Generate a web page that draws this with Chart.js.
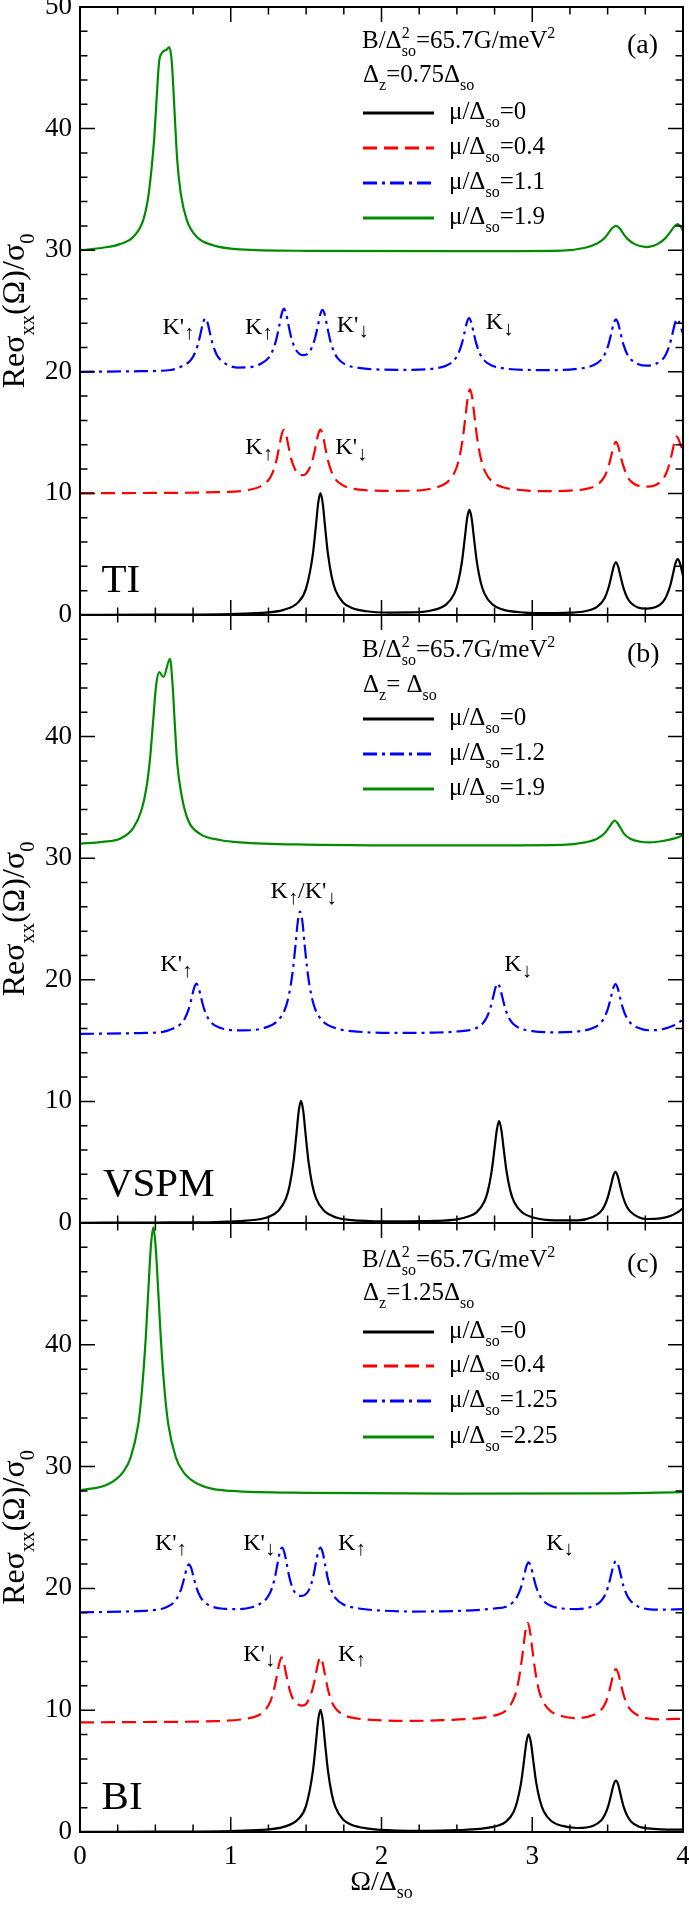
<!DOCTYPE html>
<html>
<head>
<meta charset="utf-8">
<script src="https://cdn.jsdelivr.net/npm/chart.js@4.4.1/dist/chart.umd.min.js"></script>
<style>
  body { margin: 0; background: #fff; width: 689px; height: 1905px; position: relative; overflow: hidden; }
  canvas { position: absolute; left: 0; }
</style>
</head>
<body>
<canvas id="pa" width="689" height="640" style="top:0px"></canvas>
<canvas id="pb" width="689" height="660" style="top:590px"></canvas>
<canvas id="pc" width="689" height="707" style="top:1198px"></canvas>
<script>
// x = Ω/Δso, y = Re σxx(Ω)/σ0
const xTicks = [0, 1, 2, 3, 4];
const yTicks = [0, 10, 20, 30, 40, 50];

// panel (a) TI, Δz = 0.75 Δso
const muA = ['0', '0.4', '1.1', '1.9'];
const a_mu0 = [[0,0.02],[0.5,0.03],[1.0,0.08],[1.2,0.17],[1.35,0.42],[1.45,1.08],[1.5,2.19],[1.545,5.02],[1.565,7.35],[1.58,9.2],[1.595,10.02],[1.61,9.2],[1.625,7.35],[1.645,5.0],[1.67,3.13],[1.695,2.03],[1.745,1.03],[1.8,0.6],[1.9,0.31],[2.05,0.2],[2.2,0.21],[2.33,0.37],[2.43,0.87],[2.483,1.76],[2.508,2.7],[2.533,4.34],[2.553,6.36],[2.568,7.95],[2.583,8.64],[2.598,7.95],[2.613,6.36],[2.633,4.33],[2.658,2.69],[2.683,1.76],[2.733,0.9],[2.8,0.46],[2.95,0.2],[3.1,0.15],[3.25,0.19],[3.35,0.31],[3.43,0.66],[3.48,1.38],[3.505,2.2],[3.525,3.19],[3.54,3.98],[3.555,4.34],[3.57,3.98],[3.585,3.2],[3.605,2.23],[3.63,1.42],[3.655,0.98],[3.7,0.62],[3.76,0.52],[3.82,0.65],[3.865,1.05],[3.89,1.55],[3.915,2.4],[3.935,3.45],[3.95,4.25],[3.965,4.6],[3.98,4.25],[4.0,3.2]];
const a_mu04 = [[0,10.02],[0.5,10.04],[0.9,10.1],[1.1,10.25],[1.2,10.6],[1.252,11.12],[1.277,11.69],[1.302,12.66],[1.322,13.86],[1.337,14.8],[1.352,15.22],[1.367,14.84],[1.382,13.94],[1.402,12.8],[1.427,11.97],[1.452,11.57],[1.473,11.5],[1.495,11.57],[1.52,12.0],[1.545,12.86],[1.565,13.97],[1.58,14.86],[1.595,15.25],[1.61,14.82],[1.625,13.9],[1.645,12.7],[1.67,11.73],[1.695,11.16],[1.745,10.66],[1.8,10.42],[1.9,10.26],[2.05,10.21],[2.2,10.22],[2.33,10.4],[2.437,10.93],[2.487,11.79],[2.512,12.72],[2.537,14.33],[2.557,16.31],[2.572,17.87],[2.587,18.56],[2.602,17.87],[2.617,16.31],[2.637,14.33],[2.662,12.72],[2.687,11.79],[2.737,10.93],[2.8,10.53],[2.95,10.25],[3.1,10.18],[3.25,10.23],[3.35,10.35],[3.43,10.69],[3.48,11.4],[3.505,12.18],[3.525,13.14],[3.54,13.9],[3.555,14.24],[3.57,13.9],[3.585,13.15],[3.605,12.24],[3.63,11.42],[3.655,10.99],[3.7,10.64],[3.758,10.55],[3.82,10.7],[3.86,11.07],[3.885,11.56],[3.91,12.42],[3.93,13.48],[3.945,14.32],[3.96,14.68],[3.975,14.3],[4.0,13.5]];
const a_mu11 = [[0,20.0],[0.4,20.05],[0.6,20.15],[0.68,20.48],[0.731,20.91],[0.756,21.38],[0.781,22.2],[0.801,23.21],[0.816,24.01],[0.831,24.4],[0.846,24.05],[0.861,23.25],[0.881,22.25],[0.906,21.43],[0.931,21.0],[0.981,20.55],[1.05,20.35],[1.15,20.42],[1.202,20.68],[1.252,21.17],[1.277,21.72],[1.302,22.66],[1.322,23.8],[1.337,24.73],[1.352,25.2],[1.367,24.8],[1.382,23.9],[1.402,22.77],[1.427,21.92],[1.46,21.44],[1.485,21.37],[1.509,21.47],[1.534,21.9],[1.559,22.76],[1.579,23.85],[1.594,24.73],[1.609,25.1],[1.624,24.69],[1.639,23.77],[1.659,22.62],[1.684,21.67],[1.709,21.12],[1.759,20.6],[1.85,20.32],[2.0,20.18],[2.2,20.16],[2.35,20.27],[2.431,20.51],[2.481,20.94],[2.506,21.41],[2.531,22.23],[2.551,23.24],[2.566,24.04],[2.581,24.41],[2.596,24.04],[2.611,23.24],[2.631,22.23],[2.656,21.41],[2.681,20.94],[2.731,20.51],[2.8,20.3],[2.95,20.16],[3.13,20.14],[3.3,20.25],[3.405,20.53],[3.455,20.96],[3.48,21.42],[3.505,22.21],[3.525,23.19],[3.54,23.97],[3.555,24.31],[3.57,23.98],[3.585,23.22],[3.605,22.23],[3.63,21.45],[3.655,21.01],[3.7,20.65],[3.758,20.5],[3.81,20.61],[3.862,21.0],[3.887,21.45],[3.912,22.24],[3.932,23.23],[3.947,24.0],[3.962,24.33],[3.977,24.0],[4.0,23.1]];
const a_mu19 = [[0,30.0],[0.15,30.2],[0.265,30.5],[0.354,31.1],[0.42,32.5],[0.453,34.4],[0.476,36.9],[0.493,39.3],[0.509,42.6],[0.524,45.4],[0.542,46.2],[0.575,46.5],[0.592,46.7],[0.608,45.6],[0.619,43.4],[0.63,40.7],[0.645,37.4],[0.668,34.7],[0.708,32.5],[0.774,31.1],[0.884,30.4],[1.061,30.07],[1.5,29.95],[2.5,29.92],[3.2,29.97],[3.35,30.2],[3.43,30.55],[3.48,31.0],[3.505,31.4],[3.53,31.8],[3.555,32.0],[3.58,31.8],[3.605,31.35],[3.63,30.95],[3.68,30.5],[3.758,30.25],[3.83,30.5],[3.88,30.95],[3.91,31.4],[3.94,31.9],[3.962,32.15],[3.985,31.95],[4.0,31.6]];

// panel (b) VSPM, Δz = Δso
const muB = ['0', '1.2', '1.9'];
const b_mu0 = [[0,0.02],[0.5,0.04],[0.9,0.08],[1.1,0.19],[1.25,0.5],[1.316,1.0],[1.366,2.0],[1.391,3.1],[1.416,5.0],[1.436,7.35],[1.451,9.2],[1.466,10.05],[1.481,9.2],[1.496,7.36],[1.516,5.02],[1.541,3.13],[1.566,2.03],[1.616,1.04],[1.7,0.45],[1.85,0.2],[2.1,0.13],[2.35,0.17],[2.5,0.3],[2.58,0.55],[2.63,0.87],[2.68,1.7],[2.705,2.6],[2.73,4.2],[2.75,6.15],[2.765,7.66],[2.78,8.38],[2.795,7.66],[2.81,6.15],[2.83,4.2],[2.855,2.62],[2.88,1.72],[2.93,0.9],[3.0,0.47],[3.15,0.22],[3.3,0.22],[3.402,0.5],[3.452,0.9],[3.477,1.35],[3.502,2.15],[3.522,3.1],[3.537,3.85],[3.552,4.2],[3.567,3.85],[3.582,3.1],[3.602,2.14],[3.627,1.35],[3.652,0.92],[3.702,0.5],[3.76,0.33],[3.85,0.38],[3.92,0.6],[3.96,0.85],[4.0,1.2]];
const b_mu12 = [[0,15.55],[0.4,15.62],[0.55,15.72],[0.622,16.01],[0.672,16.41],[0.697,16.86],[0.722,17.63],[0.742,18.58],[0.757,19.33],[0.7725,19.68],[0.787,19.34],[0.802,18.6],[0.822,17.66],[0.847,16.9],[0.872,16.46],[0.92,16.1],[0.99,15.88],[1.08,15.84],[1.2,15.97],[1.31,16.62],[1.36,17.6],[1.385,18.7],[1.41,20.6],[1.43,22.9],[1.445,24.8],[1.46,25.6],[1.475,24.8],[1.49,22.9],[1.51,20.6],[1.535,18.7],[1.56,17.6],[1.61,16.6],[1.7,16.0],[1.85,15.73],[2.1,15.63],[2.35,15.66],[2.5,15.75],[2.621,15.99],[2.671,16.4],[2.696,16.85],[2.721,17.63],[2.741,18.6],[2.756,19.35],[2.771,19.7],[2.786,19.35],[2.801,18.6],[2.821,17.63],[2.846,16.85],[2.871,16.4],[2.921,16.0],[3.0,15.78],[3.13,15.68],[3.3,15.75],[3.402,16.03],[3.452,16.43],[3.477,16.87],[3.502,17.63],[3.522,18.57],[3.537,19.31],[3.552,19.65],[3.567,19.31],[3.582,18.57],[3.602,17.63],[3.627,16.87],[3.652,16.45],[3.702,16.05],[3.77,15.85],[3.85,15.9],[3.93,16.2],[4.0,16.7]];
const b_mu19 = [[0,31.2],[0.15,31.35],[0.265,31.6],[0.354,32.5],[0.409,34.0],[0.442,35.9],[0.464,38.1],[0.486,41.4],[0.504,44.1],[0.526,45.3],[0.553,44.9],[0.597,46.4],[0.615,44.1],[0.63,40.8],[0.645,37.8],[0.675,35.1],[0.718,33.1],[0.796,32.0],[0.929,31.5],[1.061,31.3],[1.5,31.12],[2.5,31.05],[3.2,31.1],[3.35,31.3],[3.43,31.6],[3.48,32.05],[3.51,32.55],[3.53,32.9],[3.546,33.1],[3.565,32.9],[3.585,32.5],[3.61,32.0],[3.65,31.6],[3.72,31.35],[3.78,31.3],[3.88,31.45],[3.95,31.65],[4.0,31.9]];

// panel (c) BI, Δz = 1.25 Δso
const muC = ['0', '0.4', '1.25', '2.25'];
const c_mu0 = [[0,0.02],[0.5,0.03],[1.0,0.08],[1.2,0.17],[1.35,0.42],[1.45,1.08],[1.5,2.17],[1.545,5.02],[1.565,7.35],[1.58,9.2],[1.595,10.02],[1.61,9.2],[1.625,7.35],[1.645,5.02],[1.67,3.12],[1.695,2.02],[1.745,1.02],[1.8,0.6],[1.9,0.3],[2.1,0.12],[2.3,0.1],[2.5,0.15],[2.65,0.25],[2.78,0.55],[2.826,0.85],[2.876,1.65],[2.901,2.55],[2.926,4.05],[2.946,5.9],[2.961,7.35],[2.976,8.02],[2.991,7.35],[3.006,5.92],[3.026,4.07],[3.051,2.58],[3.076,1.7],[3.126,0.9],[3.2,0.5],[3.3,0.33],[3.405,0.52],[3.455,0.92],[3.48,1.37],[3.505,2.17],[3.525,3.15],[3.54,3.9],[3.555,4.22],[3.57,3.9],[3.585,3.12],[3.605,2.12],[3.63,1.33],[3.655,0.87],[3.705,0.45],[3.766,0.3],[3.85,0.22],[4.0,0.2]];
const c_mu04 = [[0,9.0],[0.5,9.04],[0.9,9.1],[1.1,9.3],[1.187,9.6],[1.237,10.15],[1.262,10.7],[1.287,11.7],[1.307,12.9],[1.322,13.85],[1.337,14.34],[1.352,13.9],[1.367,13.0],[1.387,11.85],[1.412,10.95],[1.45,10.45],[1.466,10.38],[1.495,10.45],[1.52,10.95],[1.545,11.85],[1.565,13.0],[1.58,13.9],[1.595,14.34],[1.61,13.85],[1.625,12.9],[1.645,11.7],[1.67,10.7],[1.695,10.15],[1.745,9.63],[1.85,9.3],[2.0,9.17],[2.2,9.12],[2.4,9.18],[2.6,9.3],[2.72,9.5],[2.82,9.92],[2.87,10.75],[2.895,11.6],[2.92,13.2],[2.94,15.05],[2.955,16.5],[2.97,17.18],[2.985,16.5],[3.0,15.05],[3.02,13.2],[3.045,11.6],[3.07,10.75],[3.12,9.95],[3.2,9.5],[3.3,9.35],[3.405,9.6],[3.455,10.0],[3.48,10.45],[3.505,11.27],[3.525,12.3],[3.54,13.05],[3.555,13.38],[3.57,13.05],[3.585,12.3],[3.605,11.3],[3.63,10.45],[3.655,10.0],[3.705,9.55],[3.766,9.33],[3.85,9.25],[4.0,9.3]];
const c_mu125 = [[0,18.04],[0.3,18.1],[0.49,18.22],[0.573,18.45],[0.623,18.85],[0.648,19.3],[0.673,20.02],[0.693,20.93],[0.708,21.66],[0.723,21.98],[0.738,21.66],[0.753,20.95],[0.773,20.05],[0.798,19.32],[0.823,18.9],[0.873,18.52],[0.95,18.33],[1.045,18.3],[1.14,18.45],[1.19,18.7],[1.24,19.2],[1.265,19.75],[1.29,20.75],[1.31,22.0],[1.325,22.95],[1.34,23.34],[1.355,22.98],[1.37,22.1],[1.39,20.85],[1.415,19.9],[1.44,19.5],[1.467,19.38],[1.495,19.5],[1.52,19.9],[1.545,20.85],[1.565,22.1],[1.58,22.98],[1.595,23.34],[1.61,22.95],[1.625,22.0],[1.645,20.75],[1.67,19.75],[1.695,19.2],[1.745,18.7],[1.85,18.35],[2.0,18.18],[2.2,18.1],[2.4,18.12],[2.6,18.2],[2.75,18.35],[2.826,18.5],[2.876,18.9],[2.901,19.35],[2.926,20.1],[2.946,21.05],[2.961,21.8],[2.976,22.14],[2.991,21.8],[3.006,21.05],[3.026,20.12],[3.051,19.38],[3.076,18.95],[3.126,18.55],[3.2,18.35],[3.3,18.3],[3.405,18.55],[3.455,18.95],[3.48,19.4],[3.505,20.2],[3.525,21.2],[3.54,21.93],[3.555,22.25],[3.57,21.93],[3.585,21.2],[3.605,20.2],[3.63,19.4],[3.655,18.95],[3.705,18.5],[3.766,18.3],[3.85,18.25],[4.0,18.3]];
const c_mu225 = [[0,28.05],[0.186,28.55],[0.286,29.55],[0.336,30.75],[0.386,33.45],[0.411,36.25],[0.436,40.55],[0.456,45.1],[0.471,48.2],[0.486,49.65],[0.501,48.2],[0.516,45.1],[0.536,40.55],[0.561,36.25],[0.586,33.45],[0.636,30.75],[0.686,29.55],[0.786,28.55],[1.0,28.0],[1.5,27.85],[2.5,27.78],[3.5,27.8],[4.0,27.9]];

const SERIF = "'Liberation Serif', 'Times New Roman', 'DejaVu Serif', serif";
Chart.defaults.font.family = SERIF;
Chart.defaults.color = '#000';

const sBlack = { color: '#000000', dash: [] };
const sRed = { color: '#ff0000', dash: [14, 7] };
const sBlue = { color: '#0000ff', dash: [14, 5, 3, 5] };
const sGreen = { color: '#008c00', dash: [] };

const K = (p, arrow) => [['K' + p, ''], [arrow, 'a']];

// draws text with sub ('b'), arrow sub ('a') and superscript ('p', 'P' = no advance) parts
function rich(ctx, x, y, parts, size, draw) {
  let cx = x;
  for (const [t, k] of parts) {
    let fs = k ? size * 0.64 : size;
    if (k === 'a') fs = size * 0.85;
    ctx.font = fs + 'px ' + SERIF;
    let dy = 0;
    if (k === 'b') dy = size * 0.3;
    if (k === 'a') dy = size * 0.22;
    if (k === 'p' || k === 'P') dy = -size * 0.4;
    if (draw) ctx.fillText(t, cx, y + dy);
    if (k !== 'P') cx += ctx.measureText(t).width;
  }
  return cx - x;
}

const panelDeco = {
  id: 'panelDeco',
  afterDatasetsDraw(chart, args, o) {
    const ctx = chart.ctx, a = chart.chartArea;
    const xs = chart.scales.x, ys = chart.scales.y;
    ctx.save();
    ctx.fillStyle = '#000';
    ctx.strokeStyle = '#000';
    ctx.textAlign = 'left';
    ctx.textBaseline = 'alphabetic';

    // inward ticks on all four sides
    ctx.lineWidth = 1.5;
    ctx.beginPath();
    for (let i = 0; i <= 16; i++) {
      const px = xs.getPixelForValue(i * 0.25);
      const len = i % 4 === 0 ? 15 : 7.5;
      ctx.moveTo(px, a.bottom); ctx.lineTo(px, a.bottom - len);
      ctx.moveTo(px, a.top); ctx.lineTo(px, a.top + len);
    }
    for (let v = 0; v <= 50; v += 2) {
      const py = ys.getPixelForValue(v);
      const len = v % 10 === 0 ? 15 : 7.5;
      ctx.moveTo(a.left, py); ctx.lineTo(a.left + len, py);
      ctx.moveTo(a.right, py); ctx.lineTo(a.right - len, py);
    }
    ctx.stroke();
    ctx.lineWidth = 2;
    ctx.strokeRect(a.left, a.top, a.right - a.left, a.bottom - a.top);

    // y axis title
    const yt = [['Reσ', ''], ['xx', 'b'], ['(Ω)/σ', ''], ['0', 'b']];
    ctx.save();
    ctx.translate(24, (a.top + a.bottom) / 2);
    ctx.rotate(-Math.PI / 2);
    const w = rich(ctx, 0, 0, yt, 32, false);
    rich(ctx, -w / 2, 0, yt, 32, true);
    ctx.restore();

    // header text
    rich(ctx, 362, a.top + o.headY[0], [['B/Δ', ''], ['2', 'P'], ['so', 'b'], ['=65.7G/meV', ''], ['2', 'p']], 25, true);
    rich(ctx, 363, a.top + o.headY[1], o.dz, 25, true);
    rich(ctx, 627, a.top + o.tagY, [[o.tag, '']], 28, true);

    // legend
    chart.data.datasets.forEach((ds, i) => {
      const y = a.top + o.legY[i];
      ctx.strokeStyle = ds.borderColor;
      ctx.setLineDash(ds.borderDash);
      ctx.lineWidth = 3;
      ctx.beginPath(); ctx.moveTo(363, y); ctx.lineTo(434, y); ctx.stroke();
      ctx.setLineDash([]);
      rich(ctx, 449, y + 6, [['μ/Δ', ''], ['so', 'b'], ['=' + o.mu[i], '']], 25, true);
    });

    // peak labels and panel name
    o.notes.forEach(n => {
      rich(ctx, xs.getPixelForValue(n.x), ys.getPixelForValue(n.y), n.parts, n.size || 24, true);
    });

    // x axis title on the bottom panel
    if (o.xTitle) {
      const xt = [['Ω/Δ', ''], ['so', 'b']];
      const tw = rich(ctx, 0, 0, xt, 28, false);
      rich(ctx, xs.getPixelForValue(2) - tw / 2, a.bottom + 58, xt, 28, true);
    }
    ctx.restore();
  }
};

function makePanel(id, pad, list, o, bottom) {
  const datasets = list.map(([pts, st]) => ({
    data: pts.map(([x, y]) => ({ x, y })),
    borderColor: st.color,
    borderDash: st.dash,
    borderWidth: 2.2,
    pointRadius: 0,
    fill: false,
    cubicInterpolationMode: 'monotone'
  }));
  return new Chart(document.getElementById(id), {
    type: 'line',
    data: { datasets },
    options: {
      responsive: false,
      animation: false,
      devicePixelRatio: 1,
      events: [],
      layout: { padding: { top: pad[0], bottom: pad[1], left: 0, right: 6 } },
      plugins: { legend: { display: false }, tooltip: { enabled: false }, panelDeco: o },
      scales: {
        x: {
          type: 'linear', min: 0, max: 4,
          display: bottom,
          grid: { display: false, drawTicks: false },
          border: { display: false },
          afterBuildTicks: s => { s.ticks = xTicks.map(v => ({ value: v })); },
          ticks: { font: { size: 27 }, color: '#000', padding: 9, maxRotation: 0, autoSkip: false },
          afterFit: s => { s.height = bottom ? 73 : 0; s.paddingLeft = 0; s.paddingRight = 0; }
        },
        y: {
          type: 'linear', min: 0, max: 50,
          grid: { display: false, drawTicks: false },
          border: { display: false },
          afterBuildTicks: s => { s.ticks = yTicks.map(v => ({ value: v })); },
          ticks: { font: { size: 27 }, color: '#000', padding: 8,
                   callback: v => (v === 50 && !o.top50) ? '' : v },
          afterFit: s => { s.width = 80; s.paddingTop = 0; s.paddingBottom = 0; }
        }
      }
    },
    plugins: [panelDeco]
  });
}

makePanel('pa', [7, 25], [[a_mu0, sBlack], [a_mu04, sRed], [a_mu11, sBlue], [a_mu19, sGreen]], {
  mu: muA, top50: true, tag: '(a)', headY: [41, 75], tagY: 46, legY: [106, 141, 176, 211],
  dz: [['Δ', ''], ['z', 'b'], ['=0.75Δ', ''], ['so', 'b']],
  notes: [
    { x: 0.547, y: 23.1, parts: K("'", '↑') },
    { x: 1.094, y: 23.1, parts: K('', '↑') },
    { x: 1.703, y: 23.3, parts: K("'", '↓') },
    { x: 2.692, y: 23.5, parts: K('', '↓') },
    { x: 1.097, y: 13.2, parts: K('', '↑') },
    { x: 1.694, y: 13.2, parts: K("'", '↓') },
    { x: 0.143, y: 1.9, parts: [['TI', '']], size: 41 }
  ]
}, false);

makePanel('pb', [25, 27], [[b_mu0, sBlack], [b_mu12, sBlue], [b_mu19, sGreen]], {
  mu: muB, top50: false, tag: '(b)', headY: [42, 77], tagY: 47, legY: [104, 139, 174],
  dz: [['Δ', ''], ['z', 'b'], ['= Δ', ''], ['so', 'b']],
  notes: [
    { x: 1.264, y: 26.7, parts: [['K', ''], ['↑', 'a'], ["/K'", ''], ['↓', 'a']] },
    { x: 0.533, y: 20.7, parts: K("'", '↑') },
    { x: 2.815, y: 20.7, parts: K('', '↓') },
    { x: 0.152, y: 2.2, parts: [['VSPM', '']], size: 41 }
  ]
}, false);

makePanel('pc', [25, 0], [[c_mu0, sBlack], [c_mu04, sRed], [c_mu125, sBlue], [c_mu225, sGreen]], {
  mu: muC, top50: false, tag: '(c)', headY: [44, 77], tagY: 49, legY: [109, 143, 178, 214], xTitle: true,
  dz: [['Δ', ''], ['z', 'b'], ['=1.25Δ', ''], ['so', 'b']],
  notes: [
    { x: 0.497, y: 23.15, parts: K("'", '↑') },
    { x: 1.083, y: 23.15, parts: K("'", '↓') },
    { x: 1.712, y: 23.15, parts: K('', '↑') },
    { x: 3.093, y: 23.15, parts: K('', '↓') },
    { x: 1.083, y: 14.06, parts: K("'", '↓') },
    { x: 1.712, y: 14.06, parts: K('', '↑') },
    { x: 0.143, y: 1.86, parts: [['BI', '']], size: 41 }
  ]
}, true);
</script>
</body>
</html>
